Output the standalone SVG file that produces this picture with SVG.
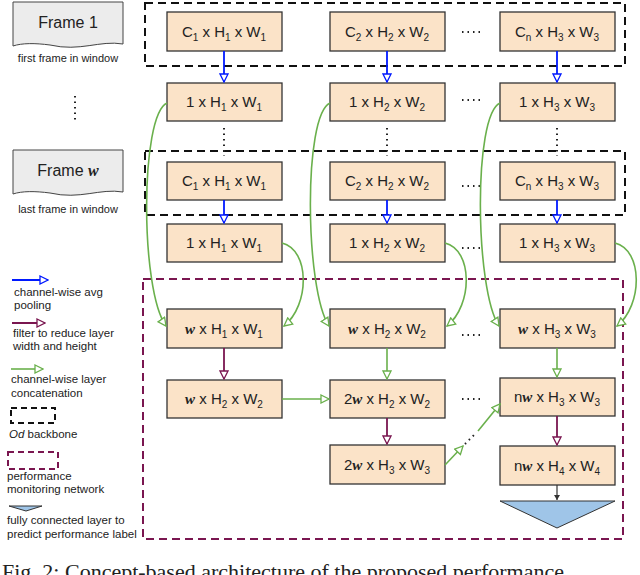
<svg xmlns="http://www.w3.org/2000/svg" width="640" height="575" viewBox="0 0 640 575">
<style>
text{font-family:"Liberation Sans",Arial,sans-serif;fill:#222}
.b{fill:#fbe3c8;stroke:#333;stroke-width:1.3}
.t{font-size:15px;text-anchor:middle}
.s{font-size:10px}
.w{font-family:"Liberation Serif","Times New Roman",serif;font-weight:bold;font-style:italic}
.lg{font-size:11.5px}
.bl{stroke:#0019ff;stroke-width:1.8;fill:none;marker-end:url(#mb)}
.pu{stroke:#7a1650;stroke-width:1.8;fill:none;marker-end:url(#mp)}
.gr{stroke:#6ab04c;stroke-width:1.6;fill:none;marker-end:url(#mg)}
.dots{stroke:#222;stroke-width:2;stroke-dasharray:1.5 4;fill:none}
</style>
<defs>
<marker id="mb" markerWidth="10" markerHeight="10" refX="9" refY="5" orient="auto" markerUnits="userSpaceOnUse"><path d="M1,1 L9,5 L1,9 Z" fill="#fff" stroke="#0019ff" stroke-width="1.3"/></marker>
<marker id="mp" markerWidth="10" markerHeight="10" refX="9" refY="5" orient="auto" markerUnits="userSpaceOnUse"><path d="M1,1 L9,5 L1,9 Z" fill="#fff" stroke="#7a1650" stroke-width="1.3"/></marker>
<marker id="mg" markerWidth="10" markerHeight="10" refX="9" refY="5" orient="auto" markerUnits="userSpaceOnUse"><path d="M1,1 L9,5 L1,9 Z" fill="#fff" stroke="#6ab04c" stroke-width="1.3"/></marker>
<marker id="mk" markerWidth="6" markerHeight="6" refX="5" refY="3" orient="auto" markerUnits="userSpaceOnUse"><path d="M0,0 L5,3 L0,6 Z" fill="#333"/></marker>
</defs>

<rect x="145" y="3" width="480" height="63" fill="none" stroke="#111" stroke-width="2" stroke-dasharray="8 5"/>
<rect x="145" y="151" width="480" height="64" fill="none" stroke="#111" stroke-width="2" stroke-dasharray="8 5"/>
<rect x="143" y="279" width="480" height="260" fill="none" stroke="#7a1650" stroke-width="2" stroke-dasharray="8 5"/>

<g id="frame1"><path d="M13,2 H123 V44 C100,40 80,52 50,45 C35,43 22,43 13,46 Z" fill="#ececec" stroke="#444"/><text x="68" y="28" font-size="16" text-anchor="middle">Frame 1</text><text x="68" y="62" font-size="11" text-anchor="middle">first frame in window</text></g>
<g id="framew"><path d="M13,150 H123 V192 C100,188 80,200 50,193 C35,191 22,191 13,194 Z" fill="#ececec" stroke="#444"/><text x="68" y="176" font-size="16" text-anchor="middle">Frame <tspan class="w">w</tspan></text><text x="68" y="213" font-size="11" text-anchor="middle">last frame in window</text></g>
<path class="dots" d="M75,96 V122"/>

<g id="r1c1"><rect class="b" x="167" y="12" width="115" height="39"/><text class="t" x="224" y="37">C<tspan class="s" dy="4">1</tspan><tspan dy="-4"> x H</tspan><tspan class="s" dy="4">1</tspan><tspan dy="-4"> x W</tspan><tspan class="s" dy="4">1</tspan></text></g>
<g id="r1c2"><rect class="b" x="330" y="12" width="115" height="39"/><text class="t" x="387" y="37">C<tspan class="s" dy="4">2</tspan><tspan dy="-4"> x H</tspan><tspan class="s" dy="4">2</tspan><tspan dy="-4"> x W</tspan><tspan class="s" dy="4">2</tspan></text></g>
<g id="r1c3"><rect class="b" x="500" y="12" width="115" height="39"/><text class="t" x="557" y="37">C<tspan class="s" dy="4">n</tspan><tspan dy="-4"> x H</tspan><tspan class="s" dy="4">3</tspan><tspan dy="-4"> x W</tspan><tspan class="s" dy="4">3</tspan></text></g>
<g id="r2c1"><rect class="b" x="167" y="83" width="115" height="38"/><text class="t" x="224" y="107">1 x H<tspan class="s" dy="4">1</tspan><tspan dy="-4"> x W</tspan><tspan class="s" dy="4">1</tspan></text></g>
<g id="r2c2"><rect class="b" x="330" y="83" width="115" height="38"/><text class="t" x="387" y="107">1 x H<tspan class="s" dy="4">2</tspan><tspan dy="-4"> x W</tspan><tspan class="s" dy="4">2</tspan></text></g>
<g id="r2c3"><rect class="b" x="500" y="83" width="115" height="38"/><text class="t" x="557" y="107">1 x H<tspan class="s" dy="4">3</tspan><tspan dy="-4"> x W</tspan><tspan class="s" dy="4">3</tspan></text></g>
<g id="r3c1"><rect class="b" x="167" y="162" width="115" height="38"/><text class="t" x="224" y="186">C<tspan class="s" dy="4">1</tspan><tspan dy="-4"> x H</tspan><tspan class="s" dy="4">1</tspan><tspan dy="-4"> x W</tspan><tspan class="s" dy="4">1</tspan></text></g>
<g id="r3c2"><rect class="b" x="330" y="162" width="115" height="38"/><text class="t" x="387" y="186">C<tspan class="s" dy="4">2</tspan><tspan dy="-4"> x H</tspan><tspan class="s" dy="4">2</tspan><tspan dy="-4"> x W</tspan><tspan class="s" dy="4">2</tspan></text></g>
<g id="r3c3"><rect class="b" x="500" y="162" width="115" height="38"/><text class="t" x="557" y="186">C<tspan class="s" dy="4">n</tspan><tspan dy="-4"> x H</tspan><tspan class="s" dy="4">3</tspan><tspan dy="-4"> x W</tspan><tspan class="s" dy="4">3</tspan></text></g>
<g id="r4c1"><rect class="b" x="167" y="224" width="115" height="38"/><text class="t" x="224" y="248">1 x H<tspan class="s" dy="4">1</tspan><tspan dy="-4"> x W</tspan><tspan class="s" dy="4">1</tspan></text></g>
<g id="r4c2"><rect class="b" x="330" y="224" width="115" height="38"/><text class="t" x="387" y="248">1 x H<tspan class="s" dy="4">2</tspan><tspan dy="-4"> x W</tspan><tspan class="s" dy="4">2</tspan></text></g>
<g id="r4c3"><rect class="b" x="500" y="224" width="115" height="38"/><text class="t" x="557" y="248">1 x H<tspan class="s" dy="4">3</tspan><tspan dy="-4"> x W</tspan><tspan class="s" dy="4">3</tspan></text></g>
<g id="r5c1"><rect class="b" x="167" y="309" width="115" height="39"/><text class="t" x="224" y="334"><tspan class="w">w</tspan>  x H<tspan class="s" dy="4">1</tspan><tspan dy="-4"> x W</tspan><tspan class="s" dy="4">1</tspan></text></g>
<g id="r5c2"><rect class="b" x="330" y="309" width="115" height="39"/><text class="t" x="387" y="334"><tspan class="w">w</tspan>  x H<tspan class="s" dy="4">2</tspan><tspan dy="-4"> x W</tspan><tspan class="s" dy="4">2</tspan></text></g>
<g id="r5c3"><rect class="b" x="500" y="309" width="115" height="39"/><text class="t" x="557" y="334"><tspan class="w">w</tspan> x H<tspan class="s" dy="4">3</tspan><tspan dy="-4"> x W</tspan><tspan class="s" dy="4">3</tspan></text></g>
<g id="r6c1"><rect class="b" x="167" y="380" width="115" height="38"/><text class="t" x="224" y="404"><tspan class="w">w</tspan>  x H<tspan class="s" dy="4">2</tspan><tspan dy="-4"> x W</tspan><tspan class="s" dy="4">2</tspan></text></g>
<g id="r6c2"><rect class="b" x="330" y="380" width="115" height="38"/><text class="t" x="387" y="404">2<tspan class="w">w</tspan>  x H<tspan class="s" dy="4">2</tspan><tspan dy="-4"> x W</tspan><tspan class="s" dy="4">2</tspan></text></g>
<g id="r6c3"><rect class="b" x="500" y="378" width="115" height="38"/><text class="t" x="557" y="402">n<tspan class="w">w</tspan>  x H<tspan class="s" dy="4">3</tspan><tspan dy="-4"> x W</tspan><tspan class="s" dy="4">3</tspan></text></g>
<g id="r7c2"><rect class="b" x="330" y="445" width="115" height="39"/><text class="t" x="387" y="470">2<tspan class="w">w</tspan>  x H<tspan class="s" dy="4">3</tspan><tspan dy="-4"> x W</tspan><tspan class="s" dy="4">3</tspan></text></g>
<g id="r7c3"><rect class="b" x="500" y="446" width="115" height="39"/><text class="t" x="557" y="471">n<tspan class="w">w</tspan>  x H<tspan class="s" dy="4">4</tspan><tspan dy="-4"> x W</tspan><tspan class="s" dy="4">4</tspan></text></g>
<g id="fc"><path d="M500,501 H615 L557,528 Z" fill="#9fc5e8" stroke="#333"/></g>

<g id="ellipses">
<path class="dots" d="M462,32 H482 M462,100 H482 M462,186 H482 M462,248 H482 M462,335 H482 M462,399 H482"/>
<path class="dots" d="M224,128 V156 M387,128 V156 M557,128 V156"/>
</g>

<g id="connectors">
<path class="bl" d="M224,51 V82"/><path class="bl" d="M387,51 V82"/><path class="bl" d="M557,51 V82"/>
<path class="bl" d="M224,200 V223"/><path class="bl" d="M387,200 V223"/><path class="bl" d="M557,200 V223"/>
<path class="gr" d="M167,103 C140,115 140,290 166,326"/>
<path class="gr" d="M330,103 C303,115 305,290 329,326"/>
<path class="gr" d="M500,103 C473,115 475,290 499,326"/>
<path class="gr" d="M282,243 C310,250 310,305 284,326"/>
<path class="gr" d="M445,243 C473,250 473,305 447,326"/>
<path class="gr" d="M615,243 C643,250 643,305 617,326"/>
<path class="pu" d="M224,348 V379"/>
<path class="gr" d="M387,348 V379"/>
<path class="gr" d="M557,348 V377"/>
<path class="gr" d="M282,399 H329"/>
<path class="pu" d="M387,418 V444"/>
<path class="pu" d="M557,416 V445"/>
<path class="gr" d="M445,465 L463,446"/>
<path class="dots" d="M465,444 L476,433" stroke-width="1.5"/>
<path class="gr" d="M478,431 L500,404"/>
<path d="M557,485 V500" stroke="#333" stroke-width="1.2" marker-end="url(#mk)"/>
</g>

<g id="legend">
<path class="bl" d="M12,280 H48"/>
<text class="lg" x="14" y="296">channel-wise avg</text><text class="lg" x="14" y="309">pooling</text>
<path class="pu" d="M12,323 H45"/>
<text class="lg" x="13" y="337">filter to reduce layer</text><text class="lg" x="13" y="350">width and height</text>
<path class="gr" d="M11,369 H43"/>
<text class="lg" x="11" y="383">channel-wise layer</text><text class="lg" x="11" y="397">concatenation</text>
<rect x="11" y="408" width="44" height="15" fill="none" stroke="#111" stroke-width="2" stroke-dasharray="6 4"/>
<text class="lg" x="9" y="438"><tspan font-style="italic">Od</tspan> backbone</text>
<rect x="8" y="452" width="50" height="17" fill="none" stroke="#7a1650" stroke-width="2" stroke-dasharray="6 4"/>
<text class="lg" x="7" y="480">performance</text><text class="lg" x="7" y="493">monitoring network</text>
<path d="M9,506 H42 L26,511 Z" fill="#9fc5e8" stroke="#333"/>
<text class="lg" x="7" y="524">fully connected layer to</text><text class="lg" x="7" y="538">predict performance label</text>
</g>
<text x="2" y="579" font-size="22" style="font-family:'Liberation Serif',serif">Fig. 2:  Concept-based architecture of the proposed performance</text>
</svg>
